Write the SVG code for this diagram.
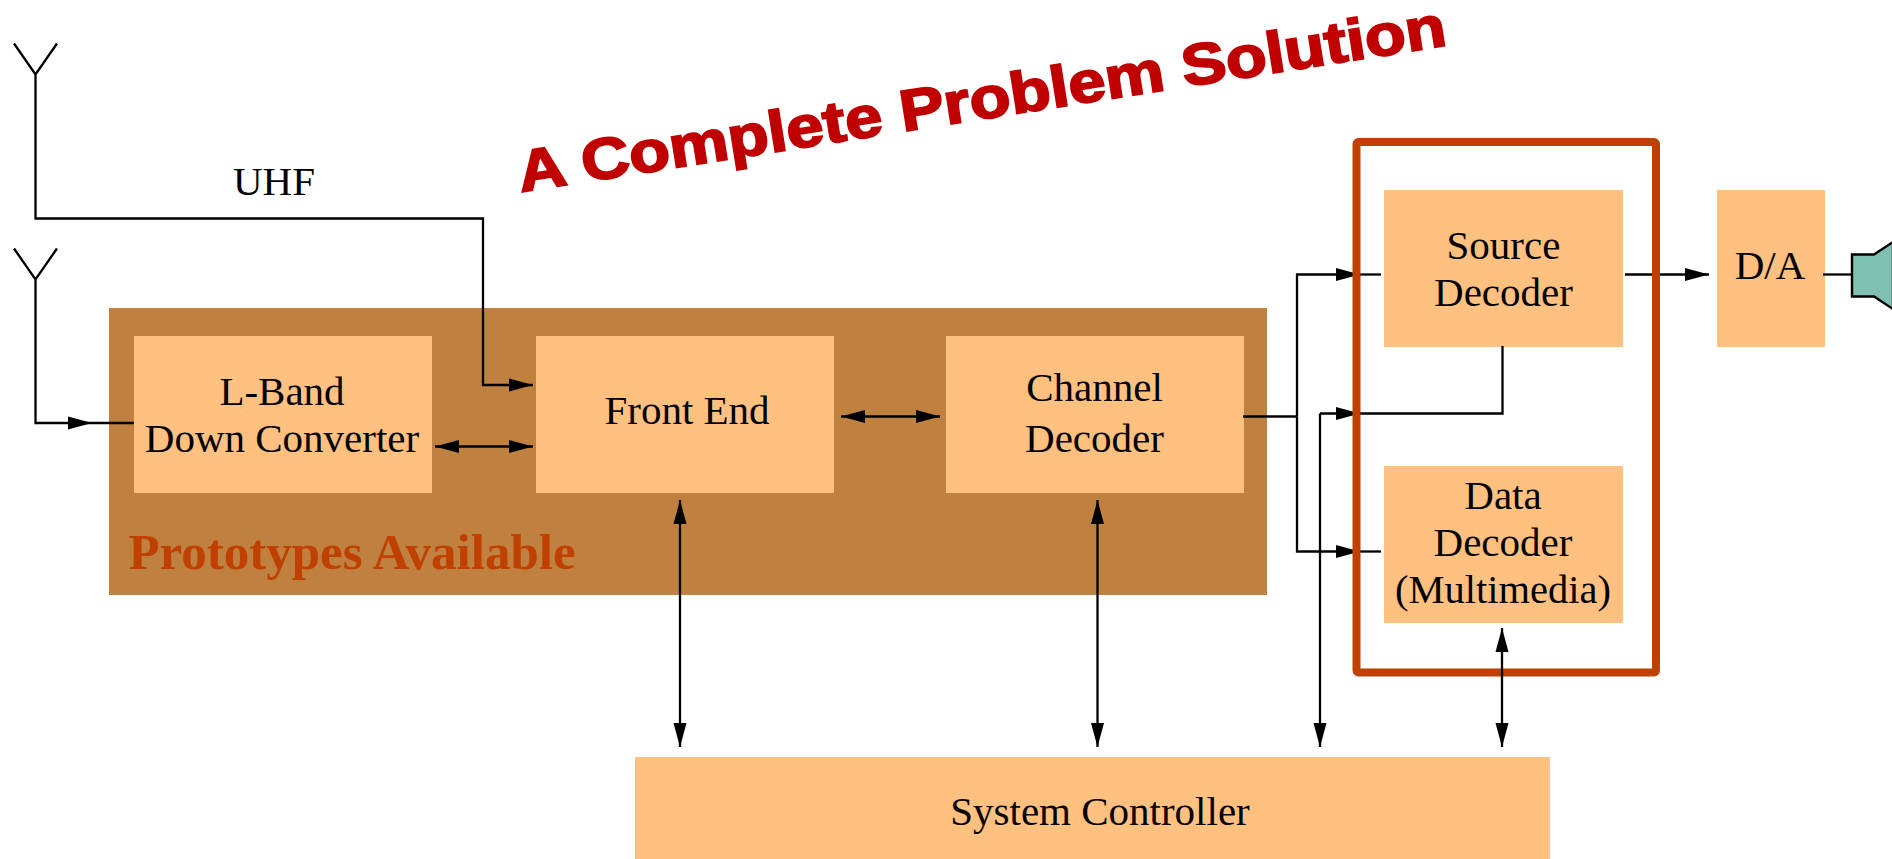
<svg xmlns="http://www.w3.org/2000/svg" width="1892" height="859" viewBox="0 0 1892 859">
<style>
text{font-family:"Liberation Serif","Times New Roman",serif;font-size:41px;fill:#000;text-anchor:middle}
.b{fill:#ffc080}
.w{fill:none;stroke:#000;stroke-width:2.3;stroke-linejoin:miter}
.a{marker-end:url(#ah)}
.d{marker-start:url(#as);marker-end:url(#ah)}
</style>
<defs>
<marker id="ah" markerUnits="userSpaceOnUse" markerWidth="24" markerHeight="14" refX="24" refY="7" orient="auto"><path d="M0 0.5L24 7L0 13.5Z" fill="#000"/></marker>
<marker id="as" markerUnits="userSpaceOnUse" markerWidth="24" markerHeight="14" refX="0" refY="7" orient="auto"><path d="M24 0.5L0 7L24 13.5Z" fill="#000"/></marker>
</defs>
<rect id="prototypes" x="109" y="308" width="1158" height="287" fill="#c08040"/>
<text id="prototypes-label" x="352" y="569" style="font-size:51px;font-weight:bold;fill:#c04000">Prototypes Available</text>
<g id="lband"><rect class="b" x="134" y="336" width="298" height="157"/><text x="282" y="405">L-Band</text><text x="282" y="452">Down Converter</text></g>
<g id="frontend"><rect class="b" x="536" y="336" width="298" height="157"/><text x="687" y="424">Front End</text></g>
<g id="channel"><rect class="b" x="946" y="336" width="298" height="157"/><text x="1094.5" y="401">Channel</text><text x="1094.5" y="452">Decoder</text></g>
<g id="source"><rect class="b" x="1384" y="190" width="239" height="157"/><text x="1503.5" y="259">Source</text><text x="1503.5" y="306">Decoder</text></g>
<g id="data"><rect class="b" x="1384" y="466" width="239" height="157"/><text x="1503" y="509">Data</text><text x="1503" y="556">Decoder</text><text x="1503" y="603" style="font-size:40.5px">(Multimedia)</text></g>
<g id="da"><rect class="b" x="1717" y="190" width="108" height="157"/><text x="1770" y="279">D/A</text></g>
<g id="system"><rect class="b" x="635" y="757" width="915" height="102"/><text x="1100" y="825">System Controller</text></g>
<g id="speaker"><path d="M1852 254.5H1874L1893 242V309L1874 296.5H1852Z" fill="#80c0b0" stroke="#000" stroke-width="2.4"/></g>
<g id="connectors">
<path class="w a" d="M14 43.5L35.5 74.5L57 43.5M35.5 74.5V218.5H483V385H533"/>
<path class="w" d="M14 248.5L35.5 279.5L57 248.5M35.5 279.5V423H134"/>
<path d="M68 416.5L92 423L68 429.5Z"/>
<path class="w d" d="M435 446.5H533"/>
<path class="w d" d="M841 416.5H940"/>
<path class="w" d="M1243 416.5H1297"/>
<path class="w a" d="M1297 416.5V274.5H1360"/>
<path class="w" d="M1360 274.5H1381"/>
<path class="w a" d="M1297 416.5V551.5H1360"/>
<path class="w" d="M1360 551.5H1381"/>
<path class="w" d="M1502.5 346V413.5H1320"/>
<path class="w a" d="M1320 413.5V747"/>
<path d="M1336 407L1360 413.5L1336 420Z"/>
<path class="w a" d="M1625 274.5H1709"/>
<path class="w" d="M1823 274.5H1852"/>
<path class="w d" d="M680 500V747"/>
<path class="w d" d="M1097.5 500V747"/>
</g>
<g id="frame"><rect x="1356.5" y="142" width="299.5" height="530.5" rx="2" fill="none" stroke="#c04000" stroke-width="8"/></g>
<path id="data-controller" class="w d" d="M1502 628V747"/>
<text id="title" transform="translate(521 192) rotate(-9) scale(1.15 1)" x="0" y="0" stroke="#c00000" stroke-width="2" style="font-family:'Liberation Sans',Arial,sans-serif;font-weight:bold;font-size:58px;fill:#c00000;text-anchor:start">A Complete Problem Solution</text>
<text id="uhf" x="274" y="195">UHF</text>
</svg>
